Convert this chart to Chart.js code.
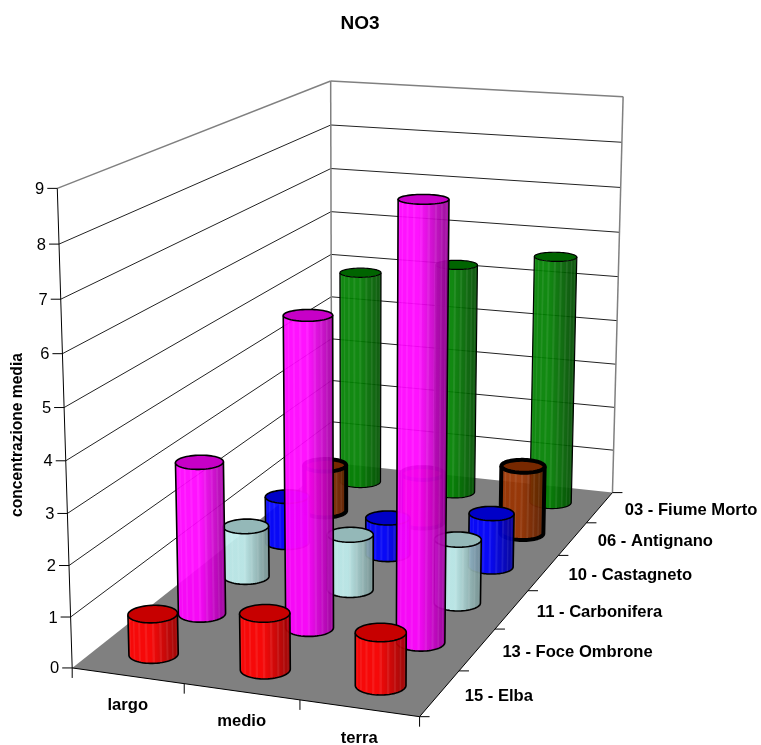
<!DOCTYPE html>
<html>
<head>
<meta charset="utf-8">
<style>
  html, body { margin: 0; padding: 0; background: #ffffff; }
  canvas { display: block; }
</style>
<script src="https://cdn.jsdelivr.net/npm/chart.js@4/dist/chart.umd.min.js"></script>
</head>
<body>
<canvas id="chart" width="761" height="745"></canvas>
<script>
// dati
const chartTitle = 'NO3'
const yTitle = 'concentrazione media'
const categories = ['largo', 'medio', 'terra']
const depthLabels = ['03 - Fiume Morto', '06 - Antignano', '10 - Castagneto', '11 - Carbonifera', '13 - Foce Ombrone', '15 - Elba']
const yTicks = [0, 1, 2, 3, 4, 5, 6, 7, 8, 9]

const fiumeMorto = [4.9, 5.25, 5.6]
const antignano = [1.05, 1.1, 1.5]
const castagneto = [1.02, 0.8, 1.15]
const carbonifera = [1.08, 1.16, 1.32]
const foceOmbrone = [3.1, 6.2, 8.55]
const elba = [0.8, 1.1, 1.02]

// angoli del box 3D sullo schermo: [u, v, w, x, y]
const boxCorners = [
  [0, 0, 0, 73, 668],
  [1, 0, 0, 419, 717],
  [1, 1, 0, 613, 492],
  [0, 1, 0, 331, 463],
  [0, 0, 1, 57, 188],
  [0, 1, 1, 331, 81],
  [1, 1, 1, 623, 97]
]

// minimi quadrati per la matrice di proiezione
function solveProjection(pts) {
  const rows = []
  pts.forEach(([u, v, w, x, y]) => {
    rows.push([u, v, w, 1, 0, 0, 0, 0, -x * u, -x * v, -x * w, x])
    rows.push([0, 0, 0, 0, u, v, w, 1, -y * u, -y * v, -y * w, y])
  })
  const n = 11
  const m = []
  for (let i = 0; i < n; i++) {
    m[i] = []
    for (let j = 0; j <= n; j++) {
      m[i][j] = rows.reduce((s, r) => s + r[i] * r[j], 0)
    }
  }
  for (let i = 0; i < n; i++) {
    let p = i
    for (let k = i + 1; k < n; k++) if (Math.abs(m[k][i]) > Math.abs(m[p][i])) p = k
    ;[m[i], m[p]] = [m[p], m[i]]
    for (let k = 0; k < n; k++) {
      if (k === i) continue
      const f = m[k][i] / m[i][i]
      for (let j = i; j <= n; j++) m[k][j] -= f * m[i][j]
    }
  }
  return m.map((r, i) => r[n] / r[i])
}

const P = solveProjection(boxCorners)
function project(u, v, w) {
  const d = P[8] * u + P[9] * v + P[10] * w + 1
  return {
    x: (P[0] * u + P[1] * v + P[2] * w + P[3]) / d,
    y: (P[4] * u + P[5] * v + P[6] * w + P[7]) / d
  }
}

function line(ctx, a, b, color, width) {
  ctx.beginPath()
  ctx.moveTo(a.x, a.y)
  ctx.lineTo(b.x, b.y)
  ctx.strokeStyle = color
  ctx.lineWidth = width
  ctx.stroke()
}

function poly(ctx, pts) {
  ctx.beginPath()
  pts.forEach((p, i) => (i ? ctx.lineTo(p.x, p.y) : ctx.moveTo(p.x, p.y)))
  ctx.closePath()
}

function shade(rgb, k) {
  return `rgb(${rgb.map(c => Math.round(c * k)).join(',')})`
}

function norm(scale, value) {
  return scale.isHorizontal()
    ? (scale.getPixelForValue(value) - scale.left) / scale.width
    : (scale.bottom - scale.getPixelForValue(value)) / scale.height
}

const radiusU = 0.068
const radiusV = 0.034
const facets = 64

function drawCylinder(ctx, u, v, h, rgb, border) {
  const bottom = []
  const top = []
  for (let i = 0; i <= facets; i++) {
    const a = Math.PI / 2 + 2 * Math.PI * i / facets
    const cu = u + radiusU * Math.cos(a)
    const cv = v + radiusV * Math.sin(a)
    bottom.push(project(cu, cv, 0))
    top.push(project(cu, cv, h))
  }
  const xs = bottom.map(p => p.x)
  const xMin = Math.min(...xs)
  const xMax = Math.max(...xs)
  let first = -1
  let last = -1
  const faces = []

  for (let i = 0; i < facets; i++) {
    const q = [bottom[i], bottom[i + 1], top[i + 1], top[i]]
    let area = 0
    q.forEach((p, k) => {
      const n = q[(k + 1) % 4]
      area += p.x * n.y - n.x * p.y
    })
    if (area >= 0) continue
    if (first < 0) first = i
    last = i + 1
    faces.push(q)
  }

  // corpo: sagoma quasi opaca, poi le facce a strisce sopra
  const outline = []
  for (let i = first; i <= last; i++) outline.push(bottom[i])
  outline.push(top[last])
  for (let i = last - 1; i >= first; i--) outline.push(top[i])
  const grad = ctx.createLinearGradient(xMin, 0, xMax, 0)
  grad.addColorStop(0, shade(rgb, 1))
  grad.addColorStop(0.45, shade(rgb, 1))
  grad.addColorStop(1, shade(rgb, 0.62))
  ctx.save()
  ctx.globalAlpha = 0.93
  ctx.fillStyle = grad
  poly(ctx, outline)
  ctx.fill()
  faces.forEach((q, i) => {
    if (i % 3 !== 0) return
    ctx.globalAlpha = 0.08
    ctx.fillStyle = '#ffffff'
    poly(ctx, q)
    ctx.fill()
  })
  ctx.restore()

  // contorno
  ctx.beginPath()
  ctx.moveTo(top[first].x, top[first].y)
  for (let i = first; i <= last; i++) ctx.lineTo(bottom[i].x, bottom[i].y)
  ctx.lineTo(top[last].x, top[last].y)
  ctx.strokeStyle = '#000000'
  ctx.lineWidth = border
  ctx.lineJoin = 'round'
  ctx.stroke()

  poly(ctx, top)
  ctx.fillStyle = shade(rgb, 0.78)
  ctx.fill()
  ctx.stroke()
}

const box3d = {
  id: 'box3d',
  beforeDatasetsDraw(chart) {
    const ctx = chart.ctx
    const y = chart.scales.y
    const x = chart.scales.x
    const depth = chart.scales.depth
    const a = project(0, 0, 0), b = project(1, 0, 0), c = project(1, 1, 0), d = project(0, 1, 0)
    const e = project(0, 0, 1), f = project(0, 1, 1), g = project(1, 1, 1)

    // griglia sulle due pareti
    yTicks.forEach(t => {
      const w = norm(y, t)
      if (t > 0 && t < yTicks[yTicks.length - 1]) {
        line(ctx, project(0, 0, w), project(0, 1, w), '#222222', 1)
        line(ctx, project(0, 1, w), project(1, 1, w), '#222222', 1)
      }
    })
    line(ctx, e, f, '#808080', 1.5)
    line(ctx, f, g, '#808080', 1.5)
    line(ctx, f, d, '#808080', 1.5)
    line(ctx, g, c, '#808080', 1.5)

    ctx.fillStyle = '#808080'
    poly(ctx, [a, b, c, d])
    ctx.fill()

    // assi
    line(ctx, a, e, '#000000', 1)
    line(ctx, a, b, '#000000', 1)
    line(ctx, b, c, '#000000', 1)
    line(ctx, a, { x: a.x, y: a.y + 10 }, '#000000', 1)

    ctx.fillStyle = '#000000'
    ctx.textBaseline = 'middle'

    // tacche e numeri asse verticale
    ctx.font = '16.5px "Liberation Sans"'
    ctx.textAlign = 'right'
    yTicks.forEach(t => {
      const p = project(0, 0, norm(y, t))
      line(ctx, p, { x: p.x - 10, y: p.y }, '#000000', 1)
      ctx.fillStyle = '#000000'
      ctx.fillText(String(t), p.x - 13, p.y + 1)
    })

    // tacche e nomi categorie
    ctx.font = 'bold 16.6px "Liberation Sans"'
    ctx.textAlign = 'center'
    categories.forEach((name, i) => {
      const p = project((i + 1) / categories.length, 0, 0)
      line(ctx, p, { x: p.x, y: p.y + 10 }, '#000000', 1)
      const m = project(norm(x, i), 0, 0)
      ctx.fillStyle = '#000000'
      ctx.fillText(name, m.x, m.y + 30)
    })

    // tacche e nomi profondita
    ctx.textAlign = 'left'
    depthLabels.forEach((name, i) => {
      const v = norm(depth, i)
      const p = project(1, v - 0.5 / depthLabels.length, 0)
      line(ctx, p, { x: p.x + 10, y: p.y }, '#000000', 1)
      const m = project(1, v, 0)
      ctx.fillStyle = '#000000'
      ctx.fillText(name, m.x + 25, m.y + 3)
    })
    const tip = project(1, 1, 0)
    line(ctx, tip, { x: tip.x + 10, y: tip.y }, '#000000', 1)

    // titolo asse y
    ctx.save()
    ctx.translate(18, 435)
    ctx.rotate(-Math.PI / 2)
    ctx.textAlign = 'center'
    ctx.font = 'bold 15.6px "Liberation Sans"'
    ctx.fillStyle = '#000000'
    ctx.fillText(yTitle, 0, 0)
    ctx.restore()
  },
  // ogni dataset viene disegnato come fila di cilindri
  beforeDatasetDraw(chart, args) {
    const ds = chart.data.datasets[args.index]
    const { x, y, depth } = chart.scales
    const v = norm(depth, depthLabels.indexOf(ds.label))
    ds.data.forEach((val, i) => {
      drawCylinder(chart.ctx, norm(x, i), v, norm(y, val), ds.rgb, ds.borderWidth)
    })
    return false
  }
}

function series(label, data, rgb, borderWidth) {
  return { label, data, rgb, borderWidth, backgroundColor: `rgb(${rgb.join(',')})`, borderColor: '#000000' }
}

new Chart(document.getElementById('chart'), {
  type: 'bar',
  data: {
    labels: categories,
    // Chart.js disegna prima l'ultimo dataset: la fila davanti va per prima
    datasets: [
      series(depthLabels[5], elba, [255, 0, 0], 1.6),
      series(depthLabels[4], foceOmbrone, [255, 0, 255], 1.6),
      series(depthLabels[3], carbonifera, [190, 236, 236], 1.6),
      series(depthLabels[2], castagneto, [0, 0, 255], 1.6),
      series(depthLabels[1], antignano, [153, 51, 0], 4),
      series(depthLabels[0], fiumeMorto, [0, 128, 0], 1.2)
    ]
  },
  options: {
    responsive: false,
    animation: false,
    layout: { padding: { right: 41 } },
    plugins: {
      legend: { display: false },
      tooltip: { enabled: false },
      title: {
        display: true,
        text: chartTitle,
        fullSize: false,
        color: '#000000',
        font: { family: '"Liberation Sans"', size: 19, weight: 'bold' },
        padding: { top: 12, bottom: 10 }
      }
    },
    scales: {
      x: { display: false },
      y: { display: false, min: 0, max: 9 },
      depth: { type: 'category', axis: 'y', labels: depthLabels, offset: true, display: false }
    }
  },
  plugins: [box3d]
})
</script>
</body>
</html>
